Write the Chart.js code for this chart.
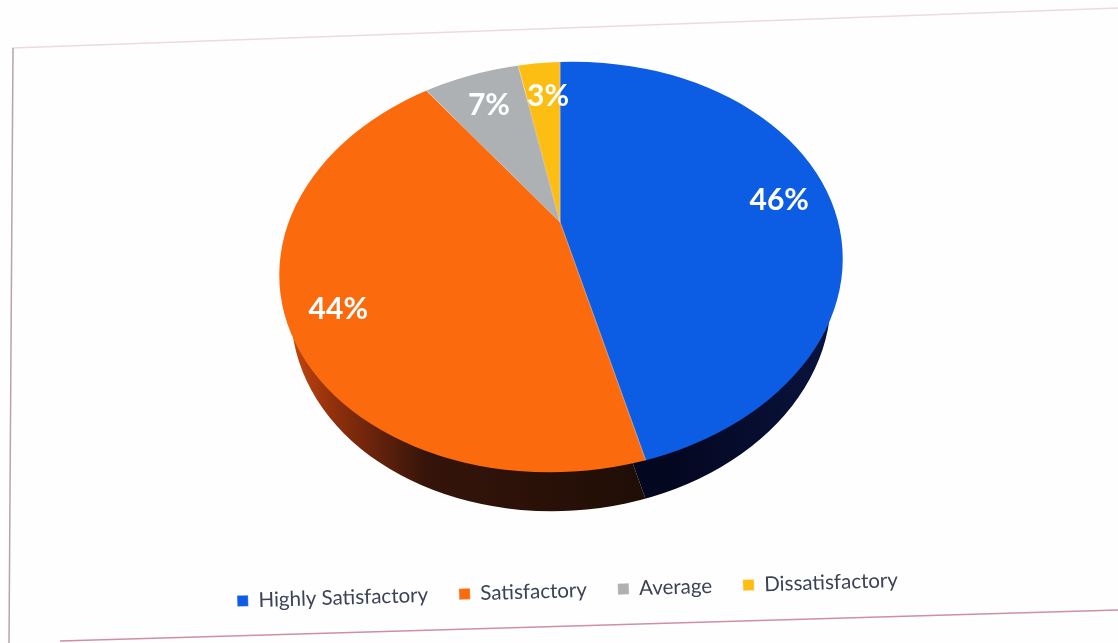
<!DOCTYPE html>
<html>
<head>
<meta charset="utf-8">
<title>Satisfaction pie</title>
<script src="https://cdn.jsdelivr.net/npm/chart.js@4"></script>
<style>
  html, body { margin: 0; padding: 0; background: #fefefe; }
  canvas { display: block; filter: blur(0.6px); } /* the source is a soft photo */
</style>
</head>
<body>
<canvas id="pie" width="1118" height="643"></canvas>
<script>
const categories = ['Highly Satisfactory', 'Satisfactory', 'Average', 'Dissatisfactory'];
const shares = [46, 44, 7, 3];
const percentLabels = ['46%', '44%', '7%', '3%'];
const sliceColors = ['#0c5ce4', '#fb6a0c', '#aeb1b4', '#fcbe12'];

// how far out each percent label sits from the apex of the pie
const labelReach = [221, 245, 179, 180];
const labelNudgeX = [0, 0, 0, 5];
const labelNudgeY = [-2, 13, 1, 2];

// the photo looks at a tilted disc: apex is above the centre of the outline
const apex = { x: 560, y: 222 };
const rim = { x: 561, y: 267, rx: 282, ry: 205, tilt: -3.5 * Math.PI / 180 };
const squash = 1.4;
const wallDepth = 39;
const wallInset = 12;
const coverReach = 385; // slices must reach past the rim before it clips them

const toSlicePlane = (ctx, arc, dy) => {
    const s = coverReach / arc.outerRadius;
    ctx.translate(apex.x, apex.y + dy);
    ctx.scale(s, s / squash);
    ctx.translate(-arc.x, -arc.y);
};

const wallFill = (ctx, arc, stops) => {
    const s = coverReach / arc.outerRadius;
    const g = ctx.createLinearGradient(
        arc.x + (rim.x - rim.rx - apex.x) / s, 0,
        arc.x + (rim.x + rim.rx - apex.x) / s, 0
    );
    stops.forEach(([at, c]) => g.addColorStop(at, c));
    return g;
};

const tiltedPie = {
    id: 'tiltedPie',
    beforeDatasetsDraw(chart) {
        const { ctx } = chart;
        const arcs = chart.getDatasetMeta(0).data;

        // side wall, same slices pushed down and darkened
        const wallStops = [
            [[0, '#050a2a'], [0.7, '#040720'], [1, '#0a1440']],
            [[0, '#d24c10'], [0.1, '#8f2f0c'], [0.26, '#35140a'], [0.65, '#1f0e06'], [1, '#1f0e06']],
            [[0, '#555'], [1, '#555']],
            [[0, '#7a5c08'], [1, '#7a5c08']]
        ];
        ctx.save();
        ctx.beginPath();
        ctx.ellipse(rim.x, rim.y + wallDepth, rim.rx - wallInset, rim.ry, rim.tilt, 0, Math.PI * 2);
        ctx.clip();
        arcs.forEach((arc, i) => {
            const keep = arc.options;
            ctx.save();
            toSlicePlane(ctx, arc, wallDepth);
            arc.options = Object.assign({}, keep, {
                backgroundColor: wallFill(ctx, arc, wallStops[i]),
                borderWidth: 0
            });
            arc.draw(ctx);
            arc.options = keep;
            ctx.restore();
        });
        ctx.restore();

        // top face: let Chart.js draw its arcs inside the rim
        ctx.save();
        ctx.beginPath();
        ctx.ellipse(rim.x, rim.y, rim.rx, rim.ry, rim.tilt, 0, Math.PI * 2);
        ctx.clip();
        toSlicePlane(ctx, arcs[0], 0);
    },
    afterDatasetsDraw(chart) {
        const { ctx } = chart;
        ctx.restore();

        const arcs = chart.getDatasetMeta(0).data;
        ctx.save();
        ctx.font = 'bold 30px Lato';
        ctx.textAlign = 'center';
        ctx.textBaseline = 'middle';
        ctx.fillStyle = '#ffffff';
        arcs.forEach((arc, i) => {
            const mid = (arc.startAngle + arc.endAngle) / 2;
            const x = apex.x + labelReach[i] * Math.cos(mid) + labelNudgeX[i];
            const y = apex.y + labelReach[i] * Math.sin(mid) / squash + labelNudgeY[i];
            ctx.fillText(percentLabels[i], x, y);
        });
        ctx.restore();
    }
};

// sheet edges of the photographed page
const pageEdges = {
    id: 'pageEdges',
    beforeDraw(chart) {
        const { ctx } = chart;
        const edges = [
            [12, 48, 1118, 8, '#eed9df', 1.5],
            [13, 48, 9, 643, '#b9a3ab', 1.5],
            [60, 641, 1118, 610, '#cf8fa3', 1.5]
        ];
        ctx.save();
        edges.forEach(([x1, y1, x2, y2, c, w]) => {
            ctx.strokeStyle = c;
            ctx.lineWidth = w;
            ctx.beginPath();
            ctx.moveTo(x1, y1);
            ctx.lineTo(x2, y2);
            ctx.stroke();
        });
        ctx.restore();
    }
};

// the legend sits slightly tilted in the photo too
const tiltedLegend = {
    id: 'tiltedLegend',
    afterInit(chart) {
        const legend = chart.legend;
        const plainDraw = legend.draw;
        legend.draw = function (area) {
            const { ctx } = chart;
            ctx.save();
            ctx.translate(567, 589);
            ctx.rotate(-1.8 * Math.PI / 180);
            ctx.translate(-567, -589);
            plainDraw.call(this, area);
            ctx.restore();
        };
    }
};

new Chart(document.getElementById('pie'), {
    type: 'pie',
    data: {
        labels: categories,
        datasets: [{
            data: shares,
            backgroundColor: sliceColors,
            borderColor: 'rgba(255, 225, 200, 0.55)',
            borderWidth: 0.6,
            clip: false
        }]
    },
    options: {
        responsive: false,
        animation: false,
        events: [],
        layout: { padding: { left: 17, bottom: 32 } },
        plugins: {
            tooltip: { enabled: false },
            legend: {
                position: 'bottom',
                labels: {
                    boxWidth: 11,
                    boxHeight: 11,
                    padding: 31,
                    color: '#3c4256',
                    font: { family: 'Lato', size: 20.5 }
                }
            }
        }
    },
    plugins: [pageEdges, tiltedPie, tiltedLegend]
});
</script>
</body>
</html>
